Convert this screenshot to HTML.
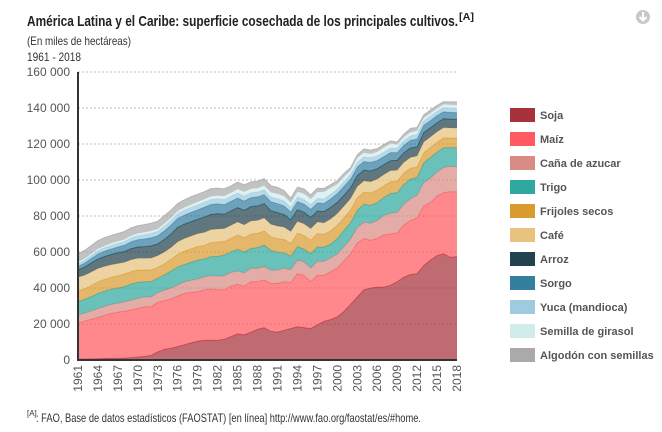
<!DOCTYPE html>
<html><head><meta charset="utf-8">
<style>
html,body{margin:0;padding:0;background:#fff;}
svg{display:block;font-family:"Liberation Sans",Arial,sans-serif;}
.cond{font-family:"Liberation Sans Narrow","Liberation Sans",sans-serif;}
</style></head>
<body>
<svg id="chart" width="662" height="432" viewBox="0 0 662 432">
  <text class="cond" x="27" y="26" font-size="15" font-weight="bold" fill="#222" textLength="431" lengthAdjust="spacingAndGlyphs">América Latina y el Caribe: superficie cosechada de los principales cultivos.</text>
  <text class="cond" x="459" y="20" font-size="10" font-weight="bold" fill="#222" textLength="15" lengthAdjust="spacingAndGlyphs">[A]</text>
  <text class="cond" x="27" y="45" font-size="12" fill="#333" textLength="104" lengthAdjust="spacingAndGlyphs">(En miles de hectáreas)</text>
  <text class="cond" x="27" y="61" font-size="12" fill="#333" textLength="54" lengthAdjust="spacingAndGlyphs">1961 - 2018</text>
  <g>
    <circle cx="643" cy="17" r="7" fill="#c8c8c8"/>
    <path d="M643 12 V20 M639.5 17 L643 20.5 L646.5 17" stroke="#fff" stroke-width="2" fill="none"/>
  </g>
  <g id="grid"></g>
  <g id="areas"></g>
  <g id="axes"></g>
  <g id="legend"></g>
  <text class="cond" x="27" y="416" font-size="8" fill="#333">[A]</text>
  <text class="cond" x="36" y="422" font-size="12" fill="#333" textLength="385" lengthAdjust="spacingAndGlyphs">: FAO, Base de datos estadísticos (FAOSTAT) [en línea] http://www.fao.org/faostat/es/#home.</text>
</svg>
<script>
const years = [];
for (let y = 1961; y <= 2018; y++) years.push(y);
const seriesNames = ["Soja","Maíz","Caña de azucar","Trigo","Frijoles secos","Café","Arroz","Sorgo","Yuca (mandioca)","Semilla de girasol","Algodón con semillas"];
const seriesColors = ["#a8323c","#ff5a5f","#d88c85","#2fa9a0","#d99b30","#e8c27e","#22424f","#347ea0","#9ecbe0","#d2ecec","#aaaaaa"];
const soja = [0.5,0.6,0.6,0.7,0.8,0.9,1.0,1.1,1.3,1.6, 2.0,2.6,4.5,6.0,6.5,7.5,8.5,9.5,10.5,11.0, 11.0,11.0,11.5,13.0,14.5,14.0,15.5,17.0,18.0,16.0, 15.5,16.5,17.5,18.5,18.0,17.5,19.5,21.5,22.5,24.0, 27.0,31.0,35.0,39.0,40.0,40.5,40.5,41.5,43.5,46.0, 47.5,48.0,52.5,55.5,58.0,59.0,57.0,57.5];
const maiz = [20,21,22,23,24,25,25.5,26,26.5,27, 27.5,27,27.5,27,27.5,28,28.5,28,27.5,28, 28.5,28,27.5,28,27.5,27,28,26.5,26.5,26.5, 27,27,25.5,29.5,29,26,27.5,25.5,26.5,27, 28,28,30,28.5,26.5,27,29,28.5,27,29, 30,31,33,32,33,34,36.5,36];
const cana = [4.5,4.5,4.6,4.8,5,5,5,5.2,5.4,5.6, 5.5,5.5,5.5,5.8,6,6.2,6.5,6.8,7,7.2, 7.4,7.6,7.8,7.6,7.5,7.4,7.5,7.4,7.4,7.4, 7.4,7.5,7.2,7.5,7.6,7.6,7.8,7.8,7.8,7.9, 8,8.3,8.6,9,9.5,10,10.8,11.5,11.5,11.5, 12,12.5,13,13.5,13.5,14,14,14];
const trigo = [7.5,7.5,8,8.5,8.5,8.5,8.5,8.5,9,9, 8.5,8.5,8,8.5,9.5,10,9.5,10,10.5,10, 10.5,11,11.5,11.5,12,11.5,11,11.5,12,11, 10,8.5,7.5,7.5,7,8,8,8,7.5,8.5, 9,9,9.5,10,10,10,10,11,11,11, 11,10,11,11.5,11,11,10.5,10.5];
const frijoles = [6,6,6.2,6.5,6.5,6.5,6.8,7,7,6.8, 6.5,6.5,6,6.2,6.5,7,7.5,7.5,7.5,7.5, 7.8,8,7.5,7.5,8,8,8,8,7.8,7.5, 7.5,7.5,7,7.5,7.5,7.5,7.5,7,7.5,7.5, 7,7,7,6.8,6.8,6.8,6.5,6.5,6.3,6.3, 6,5.8,5.6,5.6,5.5,5.5,5.3,5.3];
const cafe = [7.5,7.5,7.5,7.3,7.2,7,6.8,6.5,6.5,6.5, 6.5,6.5,6.5,6.5,6.5,7,7,7,7.2,7.2, 7.2,7.2,7.2,7.2,7.2,7.2,7.2,7.2,7.2,7, 7,6.8,6.7,6.5,6.5,6.4,6.4,6.4,6.5,6.5, 6.5,6.4,6.3,6.2,6.2,6.2,6.2,6.2,6.1,6, 6,6,6,5.8,5.8,5.6,5.6,5.5];
const arroz = [4,4.5,5,5.3,5.5,5.8,6,6,6.2,6.3, 6.5,6.8,6.5,7,7.5,8,8,8,8,8.5, 8.5,8.5,8,8,8,8,8,8,8,7.5, 7.5,7,6.5,6.5,6.5,6.2,6,6.3,6.5,6.2, 6,6,6,6,6,5.8,5.5,5.5,5.5,5.3, 5.3,5.2,5.2,5.1,5,5,4.9,4.9];
const sorgo = [2,2.2,2.5,2.8,3,3,3.2,3.5,3.8,4, 4.2,4.5,4.5,4.8,5,5,5,5.2,5.2,5.5, 5.5,5.5,5.3,5.3,5.3,5.2,5,5,5,5, 5,4.8,4.3,4.5,4.5,4.5,4.5,4.5,4.7,4.8, 4.9,4.8,4.8,4.8,4.8,4.5,4.5,4.5,4.3,4.2, 4.2,4.2,4.1,4,4,3.8,3.8,3.7];
const yuca = [1.5,1.6,1.7,1.8,1.9,2,2,2.1,2.2,2.3, 2.4,2.5,2.5,2.6,2.6,2.7,2.7,2.8,2.8,2.8, 2.8,2.8,2.8,2.8,2.8,2.8,2.7,2.7,2.7,2.7, 2.7,2.7,2.6,2.6,2.6,2.6,2.6,2.6,2.6,2.6, 2.6,2.6,2.6,2.6,2.6,2.6,2.5,2.5,2.5,2.5, 2.5,2.5,2.4,2.4,2.4,2.3,2.3,2.3];
const girasol = [1,1,1,1.1,1.1,1.2,1.2,1.2,1.3,1.3, 1.4,1.4,1.4,1.5,1.5,1.5,1.6,1.6,1.7,1.7, 1.8,1.8,2,2,2.2,2.4,2.3,2.2,2.4,2.6, 2.8,2.8,2.6,3,3.2,3.2,3.5,3.8,3.6,2.8, 2.8,2.3,2.6,2.3,2.2,2.3,2.6,2.6,2,2.1, 2.1,2.2,1.8,1.7,1.7,1.9,2,2];
const algodon = [4.5,4.5,4.5,4.5,4.5,4.3,4.3,4.3,4.2,4.2, 4.2,4.2,4.2,4.3,4.2,4,4.2,4.3,4.2,4.1, 4.2,4,4,3.8,3.8,3.8,3.7,3.8,3.7,3.6, 3.5,3,2.5,2.4,2.6,2.2,2.2,1.9,1.7,1.8, 1.8,1.5,1.6,2,2,1.7,1.6,1.4,1.4,1.5, 2,1.8,1.6,1.7,1.5,1.4,1.5,1.7];
const yTicks = [0,20000,40000,60000,80000,100000,120000,140000,160000];
const yTickLabels = ["0","20 000","40 000","60 000","80 000","100 000","120 000","140 000","160 000"];

const NS = "http://www.w3.org/2000/svg";
const X0 = 78, X1 = 457, Y0 = 360, Y1 = 72;
const xScale = y => X0 + (y - 1961) / (2018 - 1961) * (X1 - X0);
const yScale = v => Y0 - v / 160000 * (Y0 - Y1);
function mk(tag, attrs, parent) { const e = document.createElementNS(NS, tag); for (const k in attrs) e.setAttribute(k, attrs[k]); parent.appendChild(e); return e; }

const grid = document.getElementById('grid');
const axes = document.getElementById('axes');
yTicks.forEach((t, i) => {
  if (t > 0) {
    const gl = mk('line', {x1: X0, x2: X1, y1: yScale(t), y2: yScale(t), stroke: '#bbb', 'stroke-dasharray': '2,2', 'stroke-width': 1}, grid);
    
    
  }
  const tl = mk('text', {x: 70, y: yScale(t) + 4, 'text-anchor': 'end', 'font-size': 12, fill: '#555'}, axes);
  tl.textContent = yTickLabels[i];
  
  
});

const all = [soja, maiz, cana, trigo, frijoles, cafe, arroz, sorgo, yuca, girasol, algodon];
const areas = document.getElementById('areas');
let base = years.map(() => 0);
all.forEach((s, si) => {
  const top = base.map((b, i) => b + s[i] * 1000);
  let d = '';
  years.forEach((y, i) => { d += (i ? 'L' : 'M') + xScale(y).toFixed(2) + ' ' + yScale(top[i]).toFixed(2); });
  for (let i = years.length - 1; i >= 0; i--) d += 'L' + xScale(years[i]).toFixed(2) + ' ' + yScale(base[i]).toFixed(2);
  d += 'Z';
  const a = mk('path', {d: d, fill: seriesColors[si], 'fill-opacity': 0.72, stroke: 'none'}, areas);
  
  
  let ld = '';
  years.forEach((y, i) => { ld += (i ? 'L' : 'M') + xScale(y).toFixed(2) + ' ' + yScale(top[i]).toFixed(2); });
  const l = mk('path', {d: ld, fill: 'none', stroke: seriesColors[si], 'stroke-width': 1, 'stroke-opacity': 0.8}, areas);
  
  
  base = top;
});

const ya = mk('line', {x1: X0, x2: X0, y1: Y1, y2: Y0 + 1, stroke: '#333', 'stroke-width': 2}, axes);


const xa = mk('line', {x1: X0 - 1, x2: X1, y1: Y0, y2: Y0, stroke: '#333', 'stroke-width': 2}, axes);


years.forEach(y => {
  if ((y - 1961) % 3 !== 0) return;
  const x = xScale(y);
  const t = mk('text', {x: 0, y: 0, 'text-anchor': 'end', 'font-size': 12, fill: '#555', transform: 'translate(' + (x + 4) + ',365) rotate(-90)'}, axes);
  t.textContent = y;
  
  
});

const legend = document.getElementById('legend');
seriesNames.forEach((n, i) => {
  const g = mk('g', {}, legend);
  
  
  const cy = 115 + i * 24;
  mk('rect', {x: 510, y: cy - 7, width: 25, height: 14, fill: seriesColors[i]}, g);
  const t = mk('text', {x: 540, y: cy + 4, 'font-size': 11, 'font-weight': 'bold', fill: '#555'}, g);
  t.textContent = n;
});
</script>
</body></html>
